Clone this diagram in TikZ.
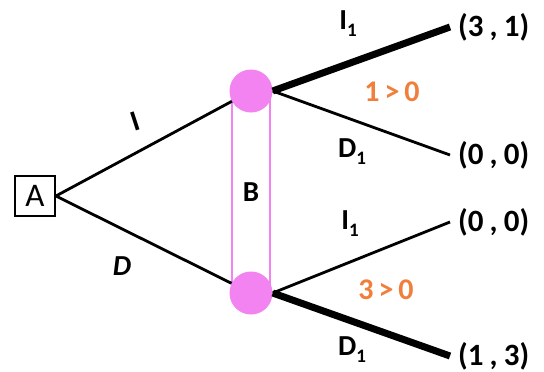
\documentclass[tikz,border=0pt]{standalone}
\usepackage{fontspec}
\setmainfont{Carlito}
\usepackage{xcolor}
\usetikzlibrary{positioning,shapes}
\definecolor{orchid}{HTML}{F283F0}
\definecolor{tangerine}{HTML}{F07F3C}
\newcommand{\sub}[1]{\raisebox{-0.5ex}{\fontsize{19}{19}\selectfont #1}}

\begin{document}
\begin{tikzpicture}[
    x=1pt, y=-1pt,
    every node/.style={font=\fontsize{29}{30}\selectfont\bfseries},
    player/.style={draw, line width=1.8pt, minimum size=40pt, inner sep=0pt, font=\fontsize{33}{33}\selectfont},
    infoset/.style={draw=orchid, line width=2.5pt, fill=white, minimum width=38pt, minimum height=202pt, inner sep=0pt},
    dot/.style={circle, fill=orchid, minimum size=43pt, inner sep=0pt},
    payoff/.style={anchor=west, inner xsep=8pt, inner ysep=2pt, font=\fontsize{31}{32}\selectfont\bfseries},
    move/.style={line width=2.8pt},
    best/.style={line width=7pt},
    compare/.style={text=tangerine, font=\fontsize{30}{30}\selectfont\bfseries}
]
\useasboundingbox (0,0) rectangle (544,372);

% first mover
\node[player] (A) at (35,196) {A};

% second mover: information set
\node[infoset] (Bset) at (251,192) {B};
\node[dot] (B1) at (251,91) {};
\node[dot] (B2) at (251,293) {};

% payoffs
\node[payoff] (p1) at (450,27) {(3\kern1pt\,,\,\kern1pt1)};
\node[payoff] (p2) at (450,155) {(0\kern1pt\,,\,\kern1pt0)};
\node[payoff] (p3) at (450,222) {(0\kern1pt\,,\,\kern1pt0)};
\node[payoff] (p4) at (450,356) {(1\kern1pt\,,\,\kern1pt3)};

% branches of A
\draw[move] (A.east) -- (B1);
\draw[move] (A.east) -- (B2);
\node[rotate=18] (lI) at (135,121) {I};
\node (lD) at (122,266) {\itshape D};

% branches of B
\draw[best] (B1.east) -- (p1.west);
\draw[move] (B1.east) -- (p2.west);
\draw[move] (B2.east) -- (p3.west);
\draw[best] (B2.east) -- (p4.west);

% labels of B's moves
\node (lI1) at (348,24) {I\sub{1}};
\node (lD1) at (352,152) {D\sub{1}};
\node (lI2) at (350,224) {I\sub{1}};
\node (lD2) at (352,350) {D\sub{1}};
\node[compare] (c1) at (392,92) {1\,>\,0};
\node[compare] (c2) at (386,290) {3\,>\,0};
\end{tikzpicture}
\end{document}
